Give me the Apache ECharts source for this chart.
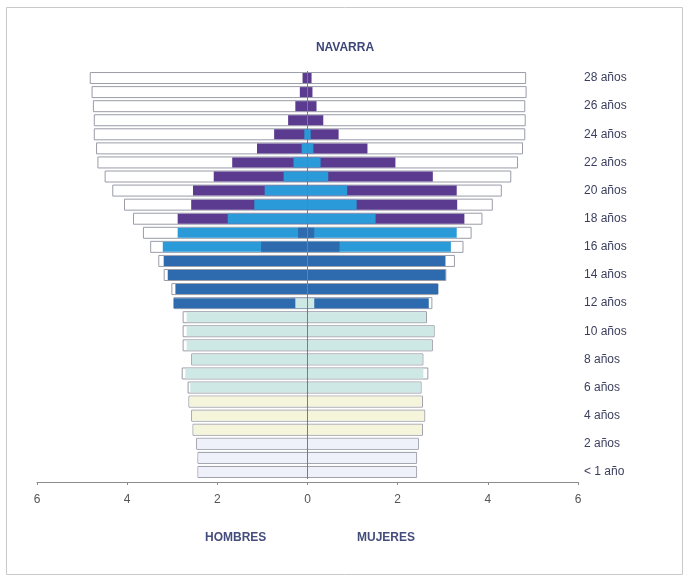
<!DOCTYPE html>
<html>
<head>
<meta charset="utf-8">
<script src="https://cdn.jsdelivr.net/npm/echarts@6/dist/echarts.min.js"></script>
<style>
html, body { margin: 0; padding: 0; background: #fff; }
#main { width: 688px; height: 578px; }
</style>
</head>
<body>
<div id="main"></div>
<script>
// edades (fila 0 = < 1 año)
var edades = ['< 1 año', '1 año'];
for (var e = 2; e <= 28; e++) edades.push(e + ' años');

// población total por edad (%), hombres y mujeres
var totalH = [2.44, 2.44, 2.47, 2.55, 2.58, 2.64, 2.66, 2.79, 2.58, 2.77, 2.77, 2.77, 2.97, 3.02, 3.19,
              3.31, 3.49, 3.65, 3.87, 4.07, 4.33, 4.50, 4.66, 4.69, 4.74, 4.74, 4.76, 4.79, 4.83];
var totalM = [2.43, 2.43, 2.47, 2.56, 2.61, 2.56, 2.53, 2.68, 2.57, 2.78, 2.82, 2.65, 2.77, 2.90, 3.08,
              3.27, 3.46, 3.64, 3.88, 4.11, 4.31, 4.52, 4.67, 4.78, 4.83, 4.84, 4.83, 4.86, 4.85];

// alcance acumulado de cada nivel de estudios (desde el centro)
var n = null;
var guardH   = [2.42, 2.42, 2.45, n, n, n, n, n, n, n, n, n, n, n, n, n, n, n, n, n, n, n, n, n, n, n, n, n, n];
var guardM   = [2.41, 2.41, 2.45, n, n, n, n, n, n, n, n, n, n, n, n, n, n, n, n, n, n, n, n, n, n, n, n, n, n];
var infH     = [n, n, n, 2.53, 2.56, 2.62, n, n, n, n, n, n, n, n, n, n, n, n, n, n, n, n, n, n, n, n, n, n, n];
var infM     = [n, n, n, 2.54, 2.59, 2.54, n, n, n, n, n, n, n, n, n, n, n, n, n, n, n, n, n, n, n, n, n, n, n];
var primH    = [n, n, n, n, n, n, 2.60, 2.71, 2.56, 2.68, 2.68, 2.68, 0.27, n, n, n, n, n, n, n, n, n, n, n, n, n, n, n, n];
var primM    = [n, n, n, n, n, n, 2.51, 2.57, 2.55, 2.76, 2.80, 2.63, 0.15, n, n, n, n, n, n, n, n, n, n, n, n, n, n, n, n];
var esoH     = [n, n, n, n, n, n, n, n, n, n, n, n, 2.97, 2.93, 3.10, 3.19, 1.03, 0.21, n, n, n, n, n, n, n, n, n, n, n];
var esoM     = [n, n, n, n, n, n, n, n, n, n, n, n, 2.69, 2.90, 3.06, 3.06, 0.71, 0.15, n, n, n, n, n, n, n, n, n, n, n];
var bachH    = [n, n, n, n, n, n, n, n, n, n, n, n, n, n, n, n, 3.21, 2.88, 1.77, 1.18, 0.95, 0.53, 0.31, 0.13, 0.07, n, n, n, n];
var bachM    = [n, n, n, n, n, n, n, n, n, n, n, n, n, n, n, n, 3.18, 3.31, 1.51, 1.09, 0.88, 0.46, 0.29, 0.13, 0.07, n, n, n, n];
var univH    = [n, n, n, n, n, n, n, n, n, n, n, n, n, n, n, n, n, n, 2.88, 2.58, 2.54, 2.08, 1.67, 1.12, 0.74, 0.43, 0.27, 0.17, 0.11];
var univM    = [n, n, n, n, n, n, n, n, n, n, n, n, n, n, n, n, n, n, 3.48, 3.32, 3.31, 2.78, 1.95, 1.33, 0.69, 0.35, 0.20, 0.11, 0.09];

var myChart = echarts.init(document.getElementById('main'));

function neg(arr) {
	return arr.map(function (v) { return v == null ? null : -v; });
}

var series = [];
// barras de total (blancas con borde)
[neg(totalH), totalM].forEach(function (d) {
	series.push({
		type: 'bar',
		yAxisIndex: 0,
		data: d,
		barWidth: 12,
		barGap: '-100%',
		silent: true,
		itemStyle: { color: '#ffffff', borderColor: '#9a9ca8', borderWidth: 1 }
	});
});
// niveles, de fuera hacia dentro
var niveles = [
	[univH, univM, '#5a3b8f'],
	[bachH, bachM, '#2a9ad8'],
	[esoH, esoM, '#2e6bae'],
	[primH, primM, '#cde8e5'],
	[infH, infM, '#f5f5dc'],
	[guardH, guardM, '#eef1f9']
];
niveles.forEach(function (nv) {
	[neg(nv[0]), nv[1]].forEach(function (d) {
		series.push({
			type: 'bar',
			yAxisIndex: 1,
			data: d,
			barWidth: 10,
			barGap: '-100%',
			silent: true,
			itemStyle: { color: nv[2] }
		});
	});
});
// línea central
series[0].markLine = {
	silent: true,
	symbol: 'none',
	label: { show: false },
	lineStyle: { color: '#6d7ca3', width: 1, type: 'solid' },
	data: [{ xAxis: 0 }]
};

option = {
	backgroundColor: '#ffffff',
	animation: false,
	title: {
		text: 'NAVARRA',
		left: 340,
		top: 37,
		textAlign: 'center',
		textStyle: { color: '#3d4677', fontSize: 12, fontWeight: 'bold', fontFamily: 'Liberation Sans' }
	},
	graphic: [
		{ type: 'rect', shape: { x: 6.5, y: 7.5, width: 676, height: 567 },
		  style: { fill: 'none', stroke: '#c9c9c9', lineWidth: 1 }, silent: true },
		{ type: 'text', left: 205, top: 532, silent: true,
		  style: { text: 'HOMBRES', fill: '#454d7c', font: 'bold 12px "Liberation Sans"' } },
		{ type: 'text', left: 357, top: 532, silent: true,
		  style: { text: 'MUJERES', fill: '#454d7c', font: 'bold 12px "Liberation Sans"' } }
	],
	grid: { left: 37, right: 110, top: 71, bottom: 99, containLabel: false },
	xAxis: {
		type: 'value',
		min: -6,
		max: 6,
		interval: 2,
		offset: 3,
		splitLine: { show: false },
		axisLine: { show: true, lineStyle: { color: '#8c8c8c' } },
		axisTick: { show: true, length: 3, lineStyle: { color: '#8c8c8c' } },
		axisLabel: {
			color: '#555',
			fontSize: 12,
			fontFamily: 'Liberation Sans',
			margin: 12,
			formatter: function (v) { return Math.abs(v); }
		}
	},
	yAxis: [{
		type: 'category',
		data: edades,
		position: 'right',
		axisLine: { show: false },
		axisTick: { show: false },
		axisLabel: {
			interval: 1,
			color: '#3b3f5e',
			fontSize: 12,
			fontFamily: 'Liberation Sans',
			margin: 6
		}
	}, {
		type: 'category',
		data: edades,
		show: false
	}],
	series: series
};

myChart.setOption(option);
</script>
</body>
</html>
